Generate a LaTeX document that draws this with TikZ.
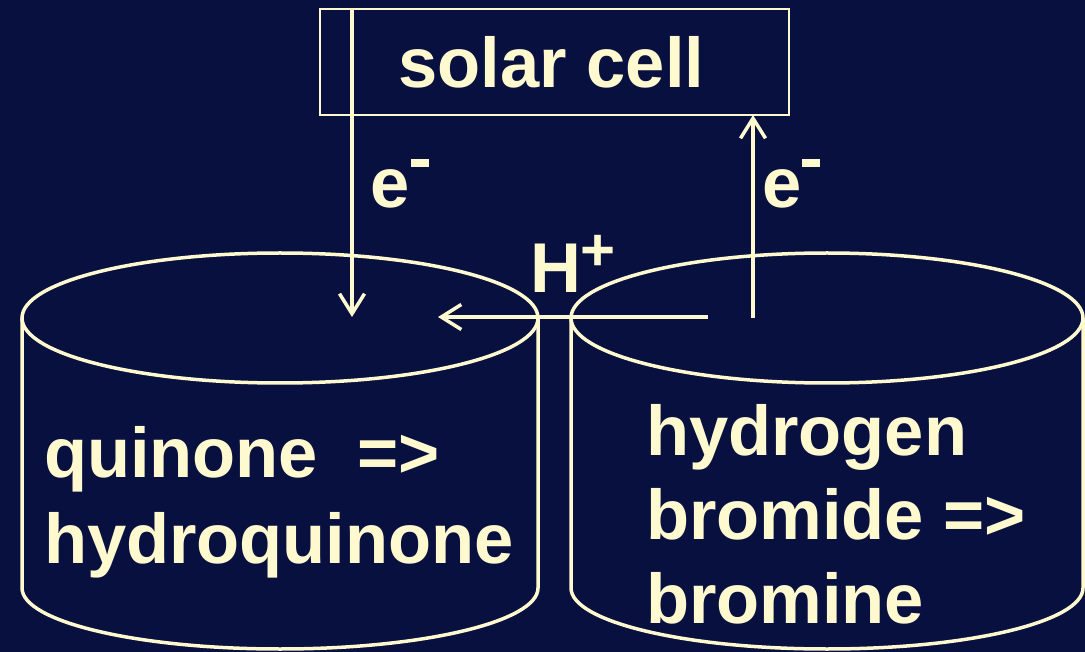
\documentclass[tikz,border=0pt]{standalone}
\usepackage{fontspec}
\setmainfont{Liberation Sans}
\usetikzlibrary{arrows.meta}
\definecolor{bgnavy}{HTML}{08103F}
\definecolor{cream}{HTML}{FFF9D0}
\newcommand{\supminus}[1]{\hspace{#1}\raisebox{41pt}{\rule{18pt}{8pt}}}
\begin{document}
\begin{tikzpicture}[x=1pt,y=1pt,
  every node/.style={inner sep=0pt,outer sep=0pt,text=cream,font=\bfseries\fontsize{70.5}{84}\selectfont},
  txt/.style={anchor=base west},
  arr/.style={draw=cream,line width=3.5pt,-{Straight Barb[length=20pt,width=25pt,line width=3.5pt]}},
  tank/.style={draw=cream,line width=3.5pt}
]
\fill[bgnavy] (0,0) rectangle (1085,-652);
\useasboundingbox (0,0) rectangle (1085,-652);

% cylinders
\draw[tank] (280,-318) ellipse [x radius=258, y radius=65];
\draw[tank] (22,-318) -- (22,-588) arc[start angle=180,end angle=360,x radius=258,y radius=61] -- (538,-318);
\draw[tank] (827,-318) ellipse [x radius=256, y radius=65];
\draw[tank] (571,-318) -- (571,-588) arc[start angle=180,end angle=360,x radius=256,y radius=61] -- (1083,-318);

% solar cell box
\node[draw=cream,line width=2.2pt,minimum width=469pt,minimum height=106pt] (solar) at (554.5,-62) {\hspace*{-6pt}solar cell};

% coordinates
\coordinate (qin) at (352,-317);
\coordinate (hbrout) at (753,-318);
\coordinate (hstart) at (708,-317);
\coordinate (hend) at (438,-317);

% connectors
\draw[arr] (solar.north -| qin) -- (qin);
\draw[arr] (hbrout) -- (solar.south -| hbrout);
\draw[arr] (hstart) -- (hend);

% labels
\node[txt] (eleft) at (370,-208) {e\supminus{2pt}};
\node[txt] (eright) at (762,-208) {e\supminus{1pt}};
\node[txt] (hplus) at (530,-293) {H\raisebox{22pt}{\fontsize{60}{60}\selectfont +}};

% tank texts
\node[txt] (q1) at (44,-477) {quinone\ \ =>};
\node[txt] (q2) at (44,-563) {hydroquinone};
\node[txt] (b1) at (646,-455) {hydrogen};
\node[txt] (b2) at (646,-539) {bromide =>};
\node[txt] (b3) at (646,-623) {bromine};
\end{tikzpicture}
\end{document}
